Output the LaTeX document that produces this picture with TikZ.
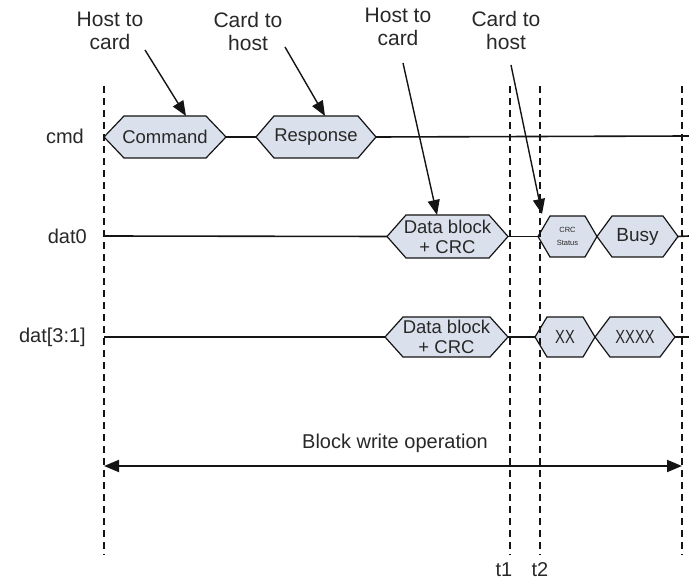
\documentclass[tikz,border=0pt]{standalone}
\usepackage{fontspec}
\usepackage{graphicx}
\setmainfont{Liberation Sans}
\usetikzlibrary{arrows.meta}
\definecolor{hexfill}{RGB}{219,225,236}
\definecolor{txt}{RGB}{40,40,40}
\definecolor{ln}{RGB}{20,20,20}
\newcommand\hexsig[8]{%
  \draw[hexline] (#2,{(#4+#5)/2}) -- ({#2+#6},#4) -- ({#3-#6},#4) -- (#3,{(#4+#5)/2}) -- ({#3-#6},#5) -- ({#2+#6},#5) -- cycle;
  \node[hexbox, minimum width={(#3-#2)*1pt}, minimum height={(#5-#4)*1pt}, font=#7] (#1) at ({(#2+#3)/2},{(#4+#5)/2}) {#8};
}
\begin{document}
\begin{tikzpicture}[x=1pt,y=-1pt,
  hexline/.style={draw=ln, line width=1.2pt, fill=hexfill, line join=miter},
  hexbox/.style={inner sep=0pt, outer sep=0pt, align=center, text=txt},
  sigline/.style={draw=ln, line width=1.6pt},
  vdash/.style={draw=ln, line width=1.3pt, dash pattern=on 7pt off 5pt},
  ptr/.style={draw=ln, line width=1.4pt, -{Triangle[length=15pt,width=12pt]}},
  span/.style={draw=ln, line width=1.8pt, {Triangle[length=15pt,width=12pt]}-{Triangle[length=15pt,width=12pt]}},
  toplabel/.style={align=center, text=txt, font=\fontsize{21}{23}\selectfont, inner sep=0pt},
  siglabel/.style={anchor=east, text=txt, font=\fontsize{20}{22}\selectfont, inner sep=0pt},
  tlabel/.style={text=txt, font=\fontsize{20}{22}\selectfont, inner sep=0pt}]
\useasboundingbox (0,0) rectangle (689,580);

% signal labels
\node[siglabel] (lcmd) at (84,136) {cmd};
\node[siglabel] (ldat0) at (87,236) {dat0};
\node[siglabel] (ldat31) at (86,337) {dat[3:1]};

% hexagons
\hexsig{command}{104}{226}{116}{158}{20}{\fontsize{18.5}{20}\selectfont}{Command}
\hexsig{response}{256}{376}{116}{158}{18}{\fontsize{18.5}{20}\selectfont}{Response}
\hexsig{dblk0}{387}{508}{215}{258}{19}{\fontsize{18.5}{20}\selectfont}{Data block\\+ CRC}
\hexsig{crcst}{538}{597}{216}{257}{12}{\fontsize{7.5}{13}\selectfont\color{gray}}{CRC\\Status}
\hexsig{busy}{597}{678}{216}{257}{15}{\fontsize{19}{20}\selectfont}{Busy}
\hexsig{dblk1}{385}{508}{317}{357}{18}{\fontsize{18.5}{20}\selectfont}{Data block\\+ CRC}
\hexsig{xx}{535}{595}{317}{357}{12}{\fontsize{19}{20}\selectfont}{\scalebox{0.77}[1]{XX}}
\hexsig{xxxx}{595}{675}{317}{357}{15}{\fontsize{19}{20}\selectfont}{\scalebox{0.77}[1]{XXXX}}

% signal line ends
\coordinate (cmdend) at (689,136);
\coordinate (d0start) at (104,236);
\coordinate (d0end) at (689,236);
\coordinate (d1start) at (104,337);
\coordinate (d1end) at (689,337);

\draw[sigline] (command.east) -- (response.west);
\draw[sigline] (response.east) -- (cmdend);
\draw[sigline] (d0start) -- (dblk0.west);
\draw[sigline] (dblk0.east) -- (crcst.west);
\draw[sigline] (busy.east) -- (d0end);
\draw[sigline] (d1start) -- (dblk1.west);
\draw[sigline] (dblk1.east) -- (xx.west);
\draw[sigline] (xxxx.east) -- (d1end);

% vertical dashed time markers
\coordinate (v0t) at (104,86);  \coordinate (v0b) at (104,555);
\coordinate (v1t) at (510,86);  \coordinate (v1b) at (510,555);
\coordinate (v2t) at (540,86);  \coordinate (v2b) at (540,555);
\coordinate (v3t) at (682,86);  \coordinate (v3b) at (682,555);
\draw[vdash] (v0t) -- (v0b);
\draw[vdash] (v1t) -- (v1b);
\draw[vdash] (v2t) -- (v2b);
\draw[vdash] (v3t) -- (v3b);

% top labels and pointers
\node[toplabel] (h2c1) at (110,31) {Host to\\card};
\node[toplabel] (c2h1) at (248,31) {Card to\\host};
\node[toplabel] (h2c2) at (398,27) {Host to\\card};
\node[toplabel] (c2h2) at (506,30) {Card to\\host};
\coordinate (p1s) at (145,50);  \coordinate (p1e) at (186,116);
\coordinate (p2s) at (285,47);  \coordinate (p2e) at (325,116);
\coordinate (p3s) at (403,63);  \coordinate (p3e) at (437,215);
\coordinate (p4s) at (511,65);  \coordinate (p4e) at (542,214);
\draw[ptr] (p1s) -- (p1e);
\draw[ptr] (p2s) -- (p2e);
\draw[ptr] (p3s) -- (p3e);
\draw[ptr] (p4s) -- (p4e);

% block write span
\coordinate (bs) at (104,466);
\coordinate (be) at (682,466);
\draw[span] (bs) -- (be);
\node[tlabel] (bwo) at (395,443) {Block write operation};

% time labels
\node[tlabel] (t1) at (504,570) {t1};
\node[tlabel] (t2) at (540,570) {t2};
\end{tikzpicture}
\end{document}
